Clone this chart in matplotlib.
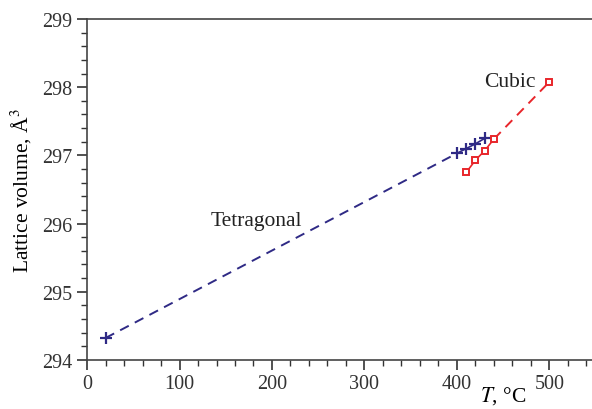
import matplotlib
matplotlib.use("Agg")
import matplotlib.pyplot as plt
from matplotlib.ticker import MultipleLocator

plt.rcParams['font.family'] = ['Liberation Serif', 'DejaVu Serif']
plt.rcParams['mathtext.fontset'] = 'stix'

# tetragonal phase
t_T = [20, 400, 410, 420, 430]
v_T = [294.32, 297.03, 297.10, 297.17, 297.25]
# cubic phase
t_C = [410, 420, 430, 440, 500]
v_C = [296.75, 296.93, 297.07, 297.24, 298.08]

blue = "#2f2a85"
red = "#e8262b"

fig = plt.figure(figsize=(5.92, 4.10), dpi=100)
ax = fig.add_axes([0.147, 0.12, 0.853, 0.831])

# dashed extrapolation + solid segments through the measured points
ax.plot(t_T[:2], v_T[:2], "--", color=blue, lw=1.4, dashes=(5, 3.5))
ax.plot(t_T[1:], v_T[1:], "-", color=blue, lw=1.2)
ax.plot(t_T, v_T, "+", color=blue, ms=8, mew=1.6, ls="none")

ax.plot(t_C[:4], v_C[:4], "-", color=red, lw=1.2)
ax.plot(t_C[3:], v_C[3:], "--", color=red, lw=1.4, dashes=(5, 3.5))
ax.plot(t_C, v_C, "s", color=red, ms=5, mfc="white", mew=1.4, ls="none")

ax.text(183, 296.04, "Tetragonal", fontsize=15.5, ha="center", va="center", color="#222222")
ax.text(457, 298.08, "Cubic", fontsize=15.5, ha="center", va="center", color="#222222")

ax.set_xlim(0, 546)
ax.set_ylim(294, 299)
ax.xaxis.set_major_locator(MultipleLocator(100))
ax.xaxis.set_minor_locator(MultipleLocator(20))
ax.yaxis.set_major_locator(MultipleLocator(1))
ax.yaxis.set_minor_locator(MultipleLocator(0.2))
ax.tick_params(which="both", direction="out", labelsize=14.5, colors="#333333")
ax.tick_params(which="major", length=7, width=1.2)
ax.tick_params(which="minor", length=4, width=1.0)
for s in ax.spines.values():
    s.set_linewidth(1.2)
    s.set_color("#444444")
ax.spines["right"].set_visible(False)

ax.set_xlabel("$T$, °C", fontsize=15.5)
ax.xaxis.set_label_coords(0.825, -0.072)
ax.set_ylabel("Lattice volume, Å$^3$", fontsize=15.5, labelpad=6)

fig.savefig("out.png", dpi=100)
